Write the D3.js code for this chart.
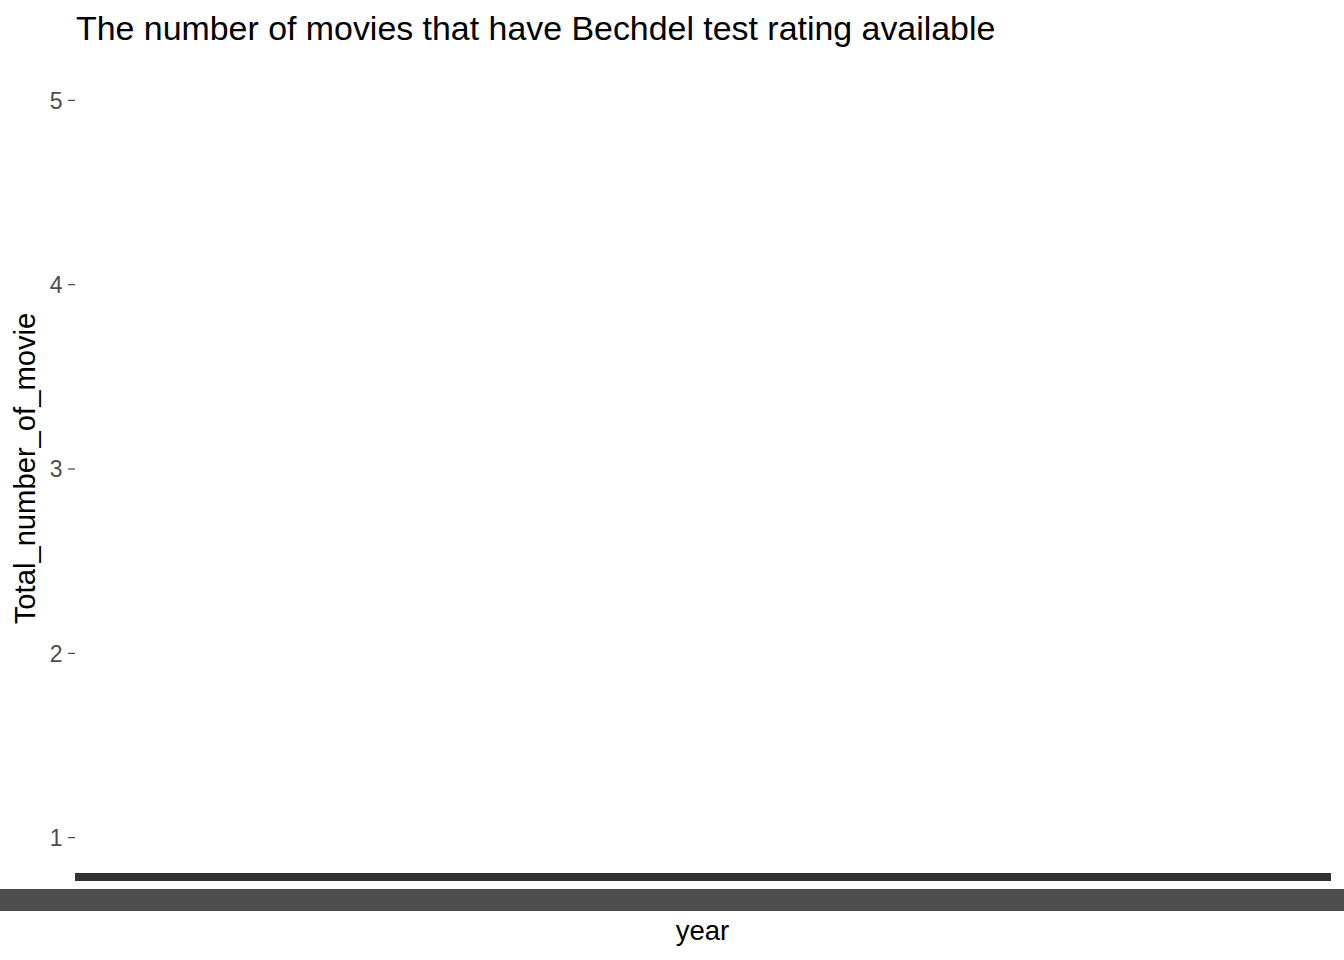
<!DOCTYPE html>
<html>
<head>
<meta charset="utf-8">
<script src="https://cdn.jsdelivr.net/npm/d3@7"></script>
<style>
  html, body { margin: 0; padding: 0; background: #fff; }
  svg { display: block; font-family: "Liberation Sans", Arial, sans-serif; }
</style>
</head>
<body>
<svg id="chart" width="1344" height="960"></svg>
<script>
// ---- data ----
const title = "The number of movies that have Bechdel test rating available";
const xTitle = "year";
const yTitle = "Total_number_of_movie";
const years = [1970, 1971, 1972, 1973, 1974, 1975, 1976, 1977, 1978, 1979,
               1980, 1981, 1982, 1983, 1984, 1985, 1986, 1987, 1988, 1989,
               1990, 1991, 1992, 1993, 1994, 1995, 1996, 1997, 1998, 1999,
               2000, 2001, 2002, 2003, 2004, 2005, 2006, 2007, 2008, 2009,
               2010, 2011, 2012, 2013];
const yTicks = [1, 2, 3, 4, 5];
const yDomain = [0.8, 5.2];

// ---- layout ----
const W = 1344, H = 960;
const panel = { left: 75, right: 1330, top: 63, bottom: 874 };

const svg = d3.select("#chart");

const x = d3.scaleBand().domain(years).range([panel.left, panel.right]).paddingInner(0).paddingOuter(0);
const y = d3.scaleLinear().domain(yDomain).range([panel.bottom, panel.top]);

// title
svg.append("text")
  .attr("x", 76).attr("y", 39.5)
  .attr("font-size", 33.9).attr("fill", "#000")
  .text(title);

// y axis
const yAxis = d3.axisLeft(y).tickValues(yTicks).tickFormat(d3.format("d")).tickSize(6.9).tickPadding(5.5);
const gy = svg.append("g").attr("transform", `translate(${panel.left},0)`).call(yAxis);
gy.select(".domain").remove();
gy.selectAll(".tick line").attr("stroke", "#333333").attr("stroke-width", 1.1);
gy.selectAll(".tick text")
  .attr("fill", "#4D4D4D").attr("font-size", 23)
  .attr("font-family", "'Liberation Sans', Arial, sans-serif")
  .attr("dy", "0.36em");

// x axis: many densely packed ticks merge into one dark strip
const gx = svg.append("g").attr("class", "x-axis").attr("shape-rendering", "crispEdges");
gx.selectAll("rect.tick")
  .data(years)
  .join("rect")
  .attr("class", "tick")
  .attr("x", d => x(d))
  .attr("width", x.bandwidth() + 0.5)
  .attr("y", panel.bottom - 1)
  .attr("height", 8)
  .attr("fill", "#333333");

// overprinted x tick labels form a solid grey strip across the page
gx.append("rect")
  .attr("class", "label-overprint")
  .attr("x", 0).attr("width", W)
  .attr("y", 889).attr("height", 22)
  .attr("fill", "#4D4D4D");

// axis titles
svg.append("text")
  .attr("x", (panel.left + panel.right) / 2).attr("y", 940)
  .attr("text-anchor", "middle")
  .attr("font-size", 27.5).attr("fill", "#000")
  .text(xTitle);

svg.append("text")
  .attr("transform", `translate(35,${(panel.top + panel.bottom) / 2}) rotate(-90)`)
  .attr("text-anchor", "middle")
  .attr("font-size", 29.2).attr("fill", "#000")
  .text(yTitle);
</script>
</body>
</html>
